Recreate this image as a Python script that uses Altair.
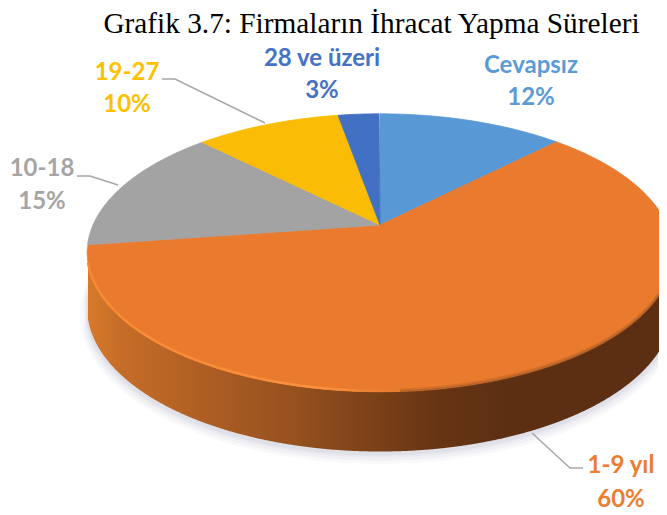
import numpy as np
import pandas as pd
import altair as alt

categories = ["Cevapsız", "1-9 yıl", "10-18", "19-27", "28 ve üzeri"]
values = [12.4, 60.3, 14.8, 9.7, 2.8]
slice_colors = ["#5898D4", "#EA7B2E", "#A3A3A3", "#FBBC05", "#4270C2"]
text_colors = ["#5B9BD5", "#ED7D31", "#A5A5A5", "#FFC000", "#4472C4"]
label_x = [531, 621, 42, 127, 322]
label_y = [73, 473, 176, 80, 66]
pct_y = [105, 507, 209, 112, 98]
title_text = "Grafik 3.7: Firmaların İhracat Yapma Süreleri"
leaders = [
    [(162, 79), (175, 79), (265, 123)],
    [(77, 176), (90, 176), (118, 185)],
    [(532, 433), (570, 468), (583, 468)],
]

# tilted-disc projection of the pie
CX, CY, A, B, K = 380.0, 225.0, 287.0, 133.4, 0.2
XMIN, XMAX = 8, 659


def rim(theta_deg, cy=CY, a=A, b=B):
    t = np.radians(theta_deg)
    X, Y = np.sin(t), np.cos(t)
    d = 1 + K * Y
    return CX + a * X / d, cy - b * Y / d


def polygon_band(px, py, grid):
    """upper/lower y of a polygon on each x of the grid"""
    rows = []
    n = len(px)
    for g in grid:
        ys = []
        for i in range(n):
            x0, y0, x1, y1 = px[i], py[i], px[(i + 1) % n], py[(i + 1) % n]
            if x0 == x1:
                continue
            if min(x0, x1) <= g <= max(x0, x1):
                ys.append(y0 + (g - x0) / (x1 - x0) * (y1 - y0))
        if ys:
            rows.append((g, min(ys), max(ys)))
    return pd.DataFrame(rows, columns=["x", "y", "y2"])


xs = alt.X("x:Q", scale=alt.Scale(domain=[XMIN, XMAX]), axis=None)
ys = alt.Y("y:Q", scale=alt.Scale(domain=[515, 8]), axis=None)
y2 = alt.Y2("y2:Q")

layers = []

# soft shadow under the disc
for grow, op in [(10, 0.10), (7, 0.14), (4, 0.18), (2, 0.25)]:
    th = np.linspace(0, 360, 361)
    sx, sy = rim(th, cy=CY + 56 + grow * 0.4, a=A + grow * 0.7, b=138 + grow * 0.5)
    df = polygon_band(sx, sy, np.arange(70, XMAX + 1, 2.0))
    layers.append(
        alt.Chart(df).mark_area(color="#c9c9d6", opacity=op, clip=True).encode(x=xs, y=ys, y2=y2)
    )

# wall
th = np.linspace(0, 360, 721)
tx, ty = rim(th)
bx, by = rim(th, cy=CY + 54, a=A, b=138)
grid = np.arange(np.ceil(tx.min()), XMAX + 1, 1.0)
top_band = polygon_band(tx, ty, grid)
bot_band = polygon_band(bx, by, grid)
wall = top_band[["x"]].copy()
wall["y"] = top_band["y2"].values
wall["y2"] = np.interp(wall["x"], bot_band["x"], bot_band["y2"])
wall_gradient = alt.Gradient(
    gradient="linear", x1=0, x2=1, y1=0, y2=0,
    stops=[
        alt.GradientStop(offset=0.0, color="#d87a2c"),
        alt.GradientStop(offset=0.05, color="#c66e28"),
        alt.GradientStop(offset=0.18, color="#b26024"),
        alt.GradientStop(offset=0.37, color="#94501e"),
        alt.GradientStop(offset=0.48, color="#7f4318"),
        alt.GradientStop(offset=0.62, color="#653413"),
        alt.GradientStop(offset=0.75, color="#5c2f12"),
        alt.GradientStop(offset=1.0, color="#5c2f12"),
    ],
)
layers.append(alt.Chart(wall).mark_area(color=wall_gradient).encode(x=xs, y=ys, y2=y2))

# top face slices
start = 0.0
total = sum(values)
for name, v, col in zip(categories, values, slice_colors):
    end = start + v / total * 360
    a = np.linspace(start, end, max(3, int(end - start) * 2))
    rx, ry = rim(a)
    px = np.concatenate([[CX], rx])
    py = np.concatenate([[CY], ry])
    g = np.arange(np.ceil(px.min()), min(np.floor(px.max()), XMAX) + 1, 1.0)
    g = np.unique(np.concatenate([g, [min(px.min(), XMAX), min(px.max(), XMAX)]]))
    df = polygon_band(px, py, g)
    df["category"] = name
    layers.append(
        alt.Chart(df).mark_area(color=col, stroke=col, strokeWidth=0.8).encode(x=xs, y=ys, y2=y2)
    )
    start = end

# bevel highlight on the front-left rim, soft dark edge on the right
front = top_band[["x"]].copy()
front["y"] = top_band["y2"].values
left = front[front["x"] <= 400]
left2 = left.copy()
left2["y"] = left2["y"] - 1
highlight = alt.Gradient(
    gradient="linear", x1=0, x2=1, y1=0, y2=0,
    stops=[
        alt.GradientStop(offset=0.0, color="#f88a33"),
        alt.GradientStop(offset=0.75, color="#f9913d"),
        alt.GradientStop(offset=1.0, color="#e57a2c"),
    ],
)
layers.append(alt.Chart(left2).mark_line(stroke=highlight, strokeWidth=2.4).encode(x=xs, y=ys))
right = front[front["x"] >= 400]
for off, w, op in [(-1.5, 3, 0.22), (0, 2.5, 0.35)]:
    r = right.copy()
    r["y"] = r["y"] + off
    layers.append(
        alt.Chart(r).mark_line(stroke="#8a4a1c", strokeWidth=w, opacity=op, clip=True).encode(x=xs, y=ys)
    )

# leader lines
for i, pts in enumerate(leaders):
    df = pd.DataFrame(pts, columns=["x", "y"])
    df["o"] = range(len(df))
    layers.append(
        alt.Chart(df)
        .mark_line(stroke="#A6A6A6", strokeWidth=1.4)
        .encode(x=xs, y=ys, order="o:Q")
    )

# labels
labels = pd.DataFrame({
    "x": label_x * 2,
    "y": label_y + pct_y,
    "text": categories + [f"{round(v)}%" for v in values],
    "c": text_colors * 2,
})
layers.append(
    alt.Chart(labels)
    .mark_text(font="Lato", fontWeight="bold", fontSize=24, align="center", baseline="alphabetic")
    .encode(x=xs, y=ys, text="text:N", color=alt.Color("c:N", scale=None, legend=None))
)

# title
title_df = pd.DataFrame({"x": [371.5], "y": [33], "text": [title_text]})
layers.append(
    alt.Chart(title_df)
    .mark_text(font="Liberation Serif", fontSize=29.3, color="#000000", align="center", baseline="alphabetic")
    .encode(x=xs, y=ys, text="text:N")
)

chart = (
    alt.layer(*layers)
    .properties(width=651, height=507, padding=0, autosize=alt.AutoSizeParams(type="none"), background="#ffffff")
    .configure_view(stroke=None)
)
chart.save("out.html", embed_options={"renderer": "svg", "actions": False})
